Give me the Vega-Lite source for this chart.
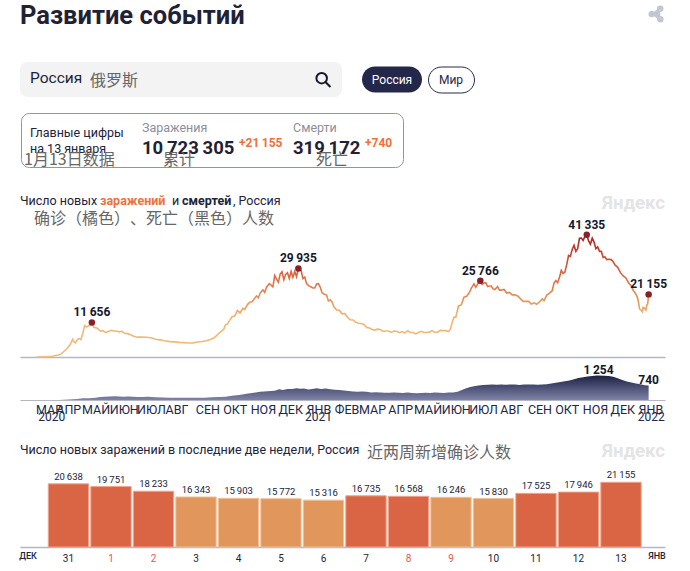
{
  "$schema": "https://vega.github.io/schema/vega-lite/v6.json",
  "padding": 0,
  "background": "white",
  "spacing": 0,
  "bounds": "flush",
  "config": {
    "view": {"stroke": null},
    "font": "Roboto",
    "text": {"font": "Roboto", "color": "#20233a"},
    "locale": {"number": {"decimal": ".", "thousands": "\u2009", "grouping": [3], "currency": ["", ""]}}
  },
  "datasets": {
    "blank": [{"t": ""}],
    "cases": [
      {"d":"2020-03-11","v":10},{"d":"2020-03-18","v":30},{"d":"2020-03-24","v":70},{"d":"2020-03-28","v":200},{"d":"2020-04-01","v":500},{"d":"2020-04-04","v":700},{"d":"2020-04-07","v":1000},{"d":"2020-04-10","v":1800},{"d":"2020-04-13","v":2600},{"d":"2020-04-15","v":3400},{"d":"2020-04-17","v":4100},{"d":"2020-04-18","v":4800},{"d":"2020-04-20","v":6000},{"d":"2020-04-21","v":5200},{"d":"2020-04-23","v":4800},{"d":"2020-04-25","v":5900},{"d":"2020-04-27","v":6200},{"d":"2020-04-29","v":5900},{"d":"2020-05-01","v":7900},{"d":"2020-05-03","v":10600},{"d":"2020-05-05","v":10100},{"d":"2020-05-07","v":10500},{"d":"2020-05-09","v":10800},{"d":"2020-05-11","v":11656},{"d":"2020-05-13","v":10000},{"d":"2020-05-15","v":9900},{"d":"2020-05-17","v":9700},{"d":"2020-05-20","v":8800},{"d":"2020-05-23","v":8900},{"d":"2020-05-26","v":8300},{"d":"2020-05-29","v":8600},{"d":"2020-06-01","v":9000},{"d":"2020-06-04","v":8800},{"d":"2020-06-07","v":8800},{"d":"2020-06-10","v":8500},{"d":"2020-06-13","v":8700},{"d":"2020-06-16","v":8000},{"d":"2020-06-19","v":7900},{"d":"2020-06-22","v":7600},{"d":"2020-06-26","v":7000},{"d":"2020-06-30","v":6700},{"d":"2020-07-05","v":6700},{"d":"2020-07-10","v":6650},{"d":"2020-07-15","v":6500},{"d":"2020-07-20","v":6000},{"d":"2020-07-25","v":5800},{"d":"2020-07-30","v":5500},{"d":"2020-08-05","v":5200},{"d":"2020-08-10","v":5100},{"d":"2020-08-15","v":4950},{"d":"2020-08-20","v":4850},{"d":"2020-08-25","v":4750},{"d":"2020-08-30","v":4750},{"d":"2020-09-04","v":5050},{"d":"2020-09-09","v":5250},{"d":"2020-09-14","v":5500},{"d":"2020-09-18","v":5900},{"d":"2020-09-22","v":6400},{"d":"2020-09-25","v":7200},{"d":"2020-09-28","v":8100},{"d":"2020-10-01","v":8900},{"d":"2020-10-03","v":9400},{"d":"2020-10-05","v":10900},{"d":"2020-10-07","v":11100},{"d":"2020-10-10","v":12600},{"d":"2020-10-12","v":13600},{"d":"2020-10-15","v":13800},{"d":"2020-10-18","v":15700},{"d":"2020-10-21","v":14900},{"d":"2020-10-24","v":16500},{"d":"2020-10-26","v":16000},{"d":"2020-10-29","v":17700},{"d":"2020-11-01","v":18600},{"d":"2020-11-03","v":18600},{"d":"2020-11-05","v":19400},{"d":"2020-11-08","v":20600},{"d":"2020-11-10","v":20000},{"d":"2020-11-12","v":21600},{"d":"2020-11-15","v":22700},{"d":"2020-11-17","v":21800},{"d":"2020-11-19","v":23600},{"d":"2020-11-22","v":24800},{"d":"2020-11-24","v":24300},{"d":"2020-11-26","v":23700},{"d":"2020-11-28","v":27500},{"d":"2020-11-30","v":26300},{"d":"2020-12-02","v":25300},{"d":"2020-12-04","v":28000},{"d":"2020-12-06","v":28800},{"d":"2020-12-08","v":26100},{"d":"2020-12-10","v":27900},{"d":"2020-12-12","v":28500},{"d":"2020-12-14","v":26500},{"d":"2020-12-16","v":28900},{"d":"2020-12-18","v":26900},{"d":"2020-12-20","v":28900},{"d":"2020-12-22","v":27100},{"d":"2020-12-24","v":29935},{"d":"2020-12-27","v":29200},{"d":"2020-12-29","v":26500},{"d":"2020-12-31","v":27000},
      {"d":"2021-01-02","v":24800},{"d":"2021-01-04","v":24200},{"d":"2021-01-06","v":23800},{"d":"2021-01-09","v":23300},{"d":"2021-01-11","v":23300},{"d":"2021-01-13","v":24700},{"d":"2021-01-15","v":24800},{"d":"2021-01-17","v":23600},{"d":"2021-01-19","v":21700},{"d":"2021-01-21","v":21300},{"d":"2021-01-24","v":20900},{"d":"2021-01-26","v":18900},{"d":"2021-01-28","v":19300},{"d":"2021-01-30","v":18600},{"d":"2021-02-01","v":17000},{"d":"2021-02-04","v":15900},{"d":"2021-02-07","v":15800},{"d":"2021-02-10","v":14600},{"d":"2021-02-13","v":14700},{"d":"2021-02-16","v":13400},{"d":"2021-02-19","v":12600},{"d":"2021-02-22","v":12500},{"d":"2021-02-25","v":11700},{"d":"2021-02-28","v":11400},{"d":"2021-03-03","v":11300},{"d":"2021-03-06","v":11000},{"d":"2021-03-09","v":10000},{"d":"2021-03-12","v":9800},{"d":"2021-03-15","v":9300},{"d":"2021-03-18","v":9100},{"d":"2021-03-21","v":9400},{"d":"2021-03-24","v":9300},{"d":"2021-03-27","v":8700},{"d":"2021-03-30","v":8800},{"d":"2021-04-02","v":8800},{"d":"2021-04-05","v":8300},{"d":"2021-04-08","v":8800},{"d":"2021-04-11","v":8700},{"d":"2021-04-14","v":8200},{"d":"2021-04-17","v":8600},{"d":"2021-04-20","v":8100},{"d":"2021-04-23","v":8900},{"d":"2021-04-26","v":8300},{"d":"2021-04-29","v":8300},{"d":"2021-05-02","v":7800},{"d":"2021-05-05","v":8300},{"d":"2021-05-08","v":8700},{"d":"2021-05-11","v":8300},{"d":"2021-05-14","v":8300},{"d":"2021-05-17","v":8400},{"d":"2021-05-20","v":8900},{"d":"2021-05-23","v":8300},{"d":"2021-05-26","v":8400},{"d":"2021-05-29","v":9000},{"d":"2021-06-01","v":8900},{"d":"2021-06-04","v":8900},{"d":"2021-06-07","v":8600},{"d":"2021-06-09","v":9300},{"d":"2021-06-11","v":11600},{"d":"2021-06-13","v":13500},{"d":"2021-06-15","v":13400},{"d":"2021-06-18","v":17300},{"d":"2021-06-21","v":17600},{"d":"2021-06-24","v":20200},{"d":"2021-06-27","v":20500},{"d":"2021-06-30","v":21800},{"d":"2021-07-02","v":23200},{"d":"2021-07-05","v":24700},{"d":"2021-07-07","v":23500},{"d":"2021-07-10","v":25100},{"d":"2021-07-12","v":25766},{"d":"2021-07-14","v":24500},{"d":"2021-07-16","v":25000},{"d":"2021-07-18","v":25100},{"d":"2021-07-20","v":23800},{"d":"2021-07-22","v":24000},{"d":"2021-07-24","v":24000},{"d":"2021-07-26","v":23000},{"d":"2021-07-28","v":22800},{"d":"2021-07-31","v":23800},{"d":"2021-08-02","v":22600},{"d":"2021-08-04","v":22600},{"d":"2021-08-07","v":22800},{"d":"2021-08-10","v":21600},{"d":"2021-08-13","v":21800},{"d":"2021-08-16","v":21000},{"d":"2021-08-19","v":21000},{"d":"2021-08-22","v":20600},{"d":"2021-08-25","v":19700},{"d":"2021-08-28","v":18800},{"d":"2021-08-31","v":18800},{"d":"2021-09-03","v":18800},{"d":"2021-09-06","v":17900},{"d":"2021-09-09","v":18300},{"d":"2021-09-12","v":17800},{"d":"2021-09-15","v":18600},{"d":"2021-09-18","v":19600},{"d":"2021-09-20","v":19000},{"d":"2021-09-23","v":20900},{"d":"2021-09-26","v":21600},{"d":"2021-09-29","v":22400},{"d":"2021-10-01","v":25000},{"d":"2021-10-03","v":25800},{"d":"2021-10-05","v":25100},{"d":"2021-10-07","v":26900},{"d":"2021-10-09","v":29300},{"d":"2021-10-11","v":28200},{"d":"2021-10-13","v":28700},{"d":"2021-10-15","v":31300},{"d":"2021-10-17","v":34300},{"d":"2021-10-19","v":34000},{"d":"2021-10-21","v":36300},{"d":"2021-10-23","v":37700},{"d":"2021-10-25","v":35700},{"d":"2021-10-27","v":36600},{"d":"2021-10-29","v":40100},{"d":"2021-10-31","v":40200},{"d":"2021-11-02","v":39400},{"d":"2021-11-04","v":40700},{"d":"2021-11-06","v":41335},{"d":"2021-11-08","v":39200},{"d":"2021-11-10","v":38100},{"d":"2021-11-12","v":40100},{"d":"2021-11-14","v":38800},{"d":"2021-11-16","v":36600},{"d":"2021-11-18","v":37200},{"d":"2021-11-20","v":35700},{"d":"2021-11-22","v":35700},{"d":"2021-11-24","v":33600},{"d":"2021-11-26","v":33800},{"d":"2021-11-28","v":32900},{"d":"2021-11-30","v":33000},{"d":"2021-12-03","v":32900},{"d":"2021-12-05","v":32200},{"d":"2021-12-07","v":31100},{"d":"2021-12-10","v":30300},{"d":"2021-12-13","v":28500},{"d":"2021-12-16","v":27400},{"d":"2021-12-19","v":26700},{"d":"2021-12-22","v":25000},{"d":"2021-12-25","v":24000},{"d":"2021-12-27","v":22500},{"d":"2021-12-29","v":21700},{"d":"2021-12-31","v":20638},
      {"d":"2022-01-01","v":19751},{"d":"2022-01-02","v":18233},{"d":"2022-01-03","v":16343},{"d":"2022-01-04","v":15903},{"d":"2022-01-05","v":15772},{"d":"2022-01-06","v":15316},{"d":"2022-01-07","v":16735},{"d":"2022-01-08","v":16568},{"d":"2022-01-09","v":16246},{"d":"2022-01-10","v":15830},{"d":"2022-01-11","v":17525},{"d":"2022-01-12","v":17946},{"d":"2022-01-13","v":21155}
    ],
    "peaks": [
      {"d":"2020-05-11","v":11656},{"d":"2020-12-24","v":29935},{"d":"2021-07-12","v":25766},{"d":"2021-11-06","v":41335},{"d":"2022-01-13","v":21155}
    ],
    "deaths": [
      {"d":"2020-03-11","v":0},{"d":"2020-03-25","v":2},{"d":"2020-04-05","v":6},{"d":"2020-04-15","v":30},{"d":"2020-04-25","v":55},{"d":"2020-05-01","v":90},{"d":"2020-05-08","v":85},{"d":"2020-05-15","v":120},{"d":"2020-05-20","v":150},{"d":"2020-05-25","v":170},{"d":"2020-05-30","v":185},{"d":"2020-06-05","v":190},{"d":"2020-06-10","v":180},{"d":"2020-06-15","v":170},{"d":"2020-06-20","v":175},{"d":"2020-06-25","v":165},{"d":"2020-06-30","v":160},{"d":"2020-07-05","v":155},{"d":"2020-07-12","v":165},{"d":"2020-07-20","v":140},{"d":"2020-07-28","v":130},{"d":"2020-08-05","v":120},{"d":"2020-08-12","v":115},{"d":"2020-08-20","v":110},{"d":"2020-08-28","v":110},{"d":"2020-09-05","v":115},{"d":"2020-09-12","v":110},{"d":"2020-09-20","v":135},{"d":"2020-09-28","v":160},{"d":"2020-10-05","v":170},{"d":"2020-10-12","v":220},{"d":"2020-10-20","v":260},{"d":"2020-10-28","v":320},{"d":"2020-11-05","v":370},{"d":"2020-11-12","v":420},{"d":"2020-11-20","v":450},{"d":"2020-11-28","v":480},{"d":"2020-12-03","v":550},{"d":"2020-12-07","v":510},{"d":"2020-12-12","v":570},{"d":"2020-12-17","v":560},{"d":"2020-12-22","v":600},{"d":"2020-12-26","v":580},{"d":"2020-12-30","v":590},
      {"d":"2021-01-04","v":540},{"d":"2021-01-08","v":570},{"d":"2021-01-13","v":600},{"d":"2021-01-18","v":560},{"d":"2021-01-23","v":590},{"d":"2021-01-28","v":550},{"d":"2021-02-02","v":520},{"d":"2021-02-07","v":510},{"d":"2021-02-12","v":490},{"d":"2021-02-17","v":460},{"d":"2021-02-22","v":440},{"d":"2021-02-27","v":420},{"d":"2021-03-04","v":440},{"d":"2021-03-09","v":420},{"d":"2021-03-14","v":390},{"d":"2021-03-19","v":400},{"d":"2021-03-24","v":380},{"d":"2021-03-29","v":370},{"d":"2021-04-03","v":375},{"d":"2021-04-08","v":385},{"d":"2021-04-13","v":370},{"d":"2021-04-18","v":360},{"d":"2021-04-23","v":380},{"d":"2021-04-28","v":360},{"d":"2021-05-03","v":350},{"d":"2021-05-08","v":365},{"d":"2021-05-13","v":370},{"d":"2021-05-18","v":360},{"d":"2021-05-23","v":380},{"d":"2021-05-28","v":370},{"d":"2021-06-02","v":365},{"d":"2021-06-07","v":380},{"d":"2021-06-12","v":390},{"d":"2021-06-17","v":420},{"d":"2021-06-21","v":500},{"d":"2021-06-25","v":580},{"d":"2021-06-30","v":660},{"d":"2021-07-05","v":700},{"d":"2021-07-10","v":740},{"d":"2021-07-15","v":770},{"d":"2021-07-20","v":780},{"d":"2021-07-25","v":790},{"d":"2021-07-30","v":780},{"d":"2021-08-04","v":790},{"d":"2021-08-09","v":780},{"d":"2021-08-14","v":800},{"d":"2021-08-19","v":790},{"d":"2021-08-24","v":770},{"d":"2021-08-29","v":790},{"d":"2021-09-03","v":790},{"d":"2021-09-08","v":790},{"d":"2021-09-13","v":780},{"d":"2021-09-18","v":800},{"d":"2021-09-23","v":810},{"d":"2021-09-28","v":850},{"d":"2021-10-03","v":890},{"d":"2021-10-08","v":920},{"d":"2021-10-13","v":960},{"d":"2021-10-18","v":1000},{"d":"2021-10-23","v":1060},{"d":"2021-10-28","v":1130},{"d":"2021-11-02","v":1170},{"d":"2021-11-07","v":1200},{"d":"2021-11-12","v":1230},{"d":"2021-11-17","v":1250},{"d":"2021-11-19","v":1254},{"d":"2021-11-25","v":1240},{"d":"2021-11-30","v":1230},{"d":"2021-12-05","v":1190},{"d":"2021-12-10","v":1120},{"d":"2021-12-15","v":1030},{"d":"2021-12-20","v":950},{"d":"2021-12-25","v":900},{"d":"2021-12-30","v":850},
      {"d":"2022-01-04","v":810},{"d":"2022-01-09","v":750},{"d":"2022-01-13","v":740}
    ],
    "twoWeeks": [
      {"day":"31","v":20638},{"day":"1","v":19751},{"day":"2","v":18233},{"day":"3","v":16343},{"day":"4","v":15903},{"day":"5","v":15772},{"day":"6","v":15316},{"day":"7","v":16735},{"day":"8","v":16568},{"day":"9","v":16246},{"day":"10","v":15830},{"day":"11","v":17525},{"day":"12","v":17946},{"day":"13","v":21155}
    ]
  },
  "vconcat": [
    {
      "width": 690, "height": 28,
      "layer": [
        {
          "data": {"values": [{"t": "Развитие событий"}]},
          "mark": {"type": "text", "align": "left", "dx": -325, "dy": 2, "fontSize": 25.5, "fontWeight": 700, "color": "#1f2235"},
          "encoding": {"text": {"field": "t"}}
        },
        {
          "data": {"name": "blank"},
          "mark": {"type": "point", "shape": "M0.5,-0.62 L-0.5,0 L0.5,0.62 M0.8,-0.62 A0.3,0.3 0 1 1 0.2,-0.62 A0.3,0.3 0 1 1 0.8,-0.62 M-0.2,0 A0.3,0.3 0 1 1 -0.8,0 A0.3,0.3 0 1 1 -0.2,0 M0.8,0.62 A0.3,0.3 0 1 1 0.2,0.62 A0.3,0.3 0 1 1 0.8,0.62", "size": 288, "filled": true, "color": "#c3c6d2", "stroke": "#c3c6d2", "strokeWidth": 1.5, "opacity": 1},
          "encoding": {"x": {"datum": 656, "type": "quantitative", "scale": {"domain": [0, 690], "range": [0, 690]}, "axis": null}}
        }
      ]
    },
    {"width": 690, "height": 34, "data": {"name": "blank"}, "mark": {"type": "text", "text": ""}},
    {
      "hconcat": [
        {"width": 20, "height": 35, "data": {"name": "blank"}, "mark": {"type": "text", "text": ""}},
        {
          "width": 322, "height": 35,
          "view": {"fill": "#f3f3f3", "cornerRadius": 8, "stroke": null},
          "layer": [
            {
              "data": {"values": [{"t": "Россия"}]},
              "mark": {"type": "text", "align": "left", "dx": -151, "dy": -2, "fontSize": 15.5, "color": "#20233a"},
              "encoding": {"text": {"field": "t"}}
            },
            {
              "data": {"values": [{"t": "俄罗斯"}]},
              "mark": {"type": "text", "align": "left", "dx": -91, "dy": 1, "fontSize": 16, "font": "Noto Sans CJK SC", "color": "#666666"},
              "encoding": {"text": {"field": "t"}}
            },
            {
              "data": {"name": "blank"},
              "mark": {"type": "point", "shape": "M0.45,-0.15 A0.6,0.6 0 1 1 -0.75,-0.15 A0.6,0.6 0 1 1 0.45,-0.15 M0.28,0.28 L0.85,0.85", "size": 308, "filled": false, "stroke": "#15172a", "strokeWidth": 2, "opacity": 1},
              "encoding": {"x": {"datum": 303, "type": "quantitative", "scale": {"domain": [0, 322], "range": [0, 322]}, "axis": null}}
            }
          ]
        },
        {"width": 20, "height": 35, "data": {"name": "blank"}, "mark": {"type": "text", "text": ""}},
        {
          "width": 60, "height": 26,
          "view": {"fill": "#23284a", "cornerRadius": 13, "stroke": null},
          "data": {"values": [{"t": "Россия"}]},
          "mark": {"type": "text", "fontSize": 12, "color": "#ffffff"},
          "encoding": {"text": {"field": "t"}}
        },
        {"width": 6, "height": 35, "data": {"name": "blank"}, "mark": {"type": "text", "text": ""}},
        {
          "width": 46, "height": 26,
          "view": {"fill": "#ffffff", "cornerRadius": 13, "stroke": "#23284a", "strokeWidth": 1},
          "data": {"values": [{"t": "Мир"}]},
          "mark": {"type": "text", "fontSize": 12, "color": "#23284a"},
          "encoding": {"text": {"field": "t"}}
        }
      ],
      "spacing": 0, "bounds": "flush", "center": true
    },
    {"width": 690, "height": 51, "data": {"name": "blank"}, "mark": {"type": "text", "text": ""}},
    {
      "hconcat": [
        {"width": 21, "height": 55, "data": {"name": "blank"}, "mark": {"type": "text", "text": ""}},
        {
          "width": 382, "height": 54,
          "view": {"fill": "#ffffff", "cornerRadius": 8, "stroke": "#9094a8", "strokeWidth": 1},
          "layer": [
            {"data": {"values": [{"t": "Главные цифры"}]}, "mark": {"type": "text", "align": "left", "dx": -182, "dy": -7, "fontSize": 12.5, "color": "#20233a"}, "encoding": {"text": {"field": "t"}}},
            {"data": {"values": [{"t": "на 13 января"}]}, "mark": {"type": "text", "align": "left", "dx": -182, "dy": 9, "fontSize": 12.5, "color": "#20233a"}, "encoding": {"text": {"field": "t"}}},
            {"data": {"values": [{"t": "1月13日数据"}]}, "mark": {"type": "text", "align": "left", "dx": -188, "dy": 20, "fontSize": 16, "font": "Noto Sans CJK SC", "color": "#666666"}, "encoding": {"text": {"field": "t"}}},
            {"data": {"values": [{"t": "Заражения"}]}, "mark": {"type": "text", "align": "left", "dx": -70, "dy": -12, "fontSize": 12.5, "color": "#8e8e9a"}, "encoding": {"text": {"field": "t"}}},
            {"data": {"values": [{"t": "Смерти"}]}, "mark": {"type": "text", "align": "left", "dx": 81, "dy": -12, "fontSize": 12.5, "color": "#8e8e9a"}, "encoding": {"text": {"field": "t"}}},
            {"data": {"values": [{"v": 10723305}]}, "mark": {"type": "text", "align": "left", "dx": -70, "dy": 8, "fontSize": 18.5, "fontWeight": 700, "color": "#1f2235"}, "encoding": {"text": {"field": "v", "type": "quantitative", "format": ",d"}}},
            {"data": {"values": [{"v": 319172}]}, "mark": {"type": "text", "align": "left", "dx": 81, "dy": 8, "fontSize": 18.5, "fontWeight": 700, "color": "#1f2235"}, "encoding": {"text": {"field": "v", "type": "quantitative", "format": ",d"}}},
            {"data": {"values": [{"t": "+21\u2009155"}]}, "mark": {"type": "text", "align": "left", "dx": 27, "dy": 3, "fontSize": 12, "fontWeight": 700, "color": "#f0703a"}, "encoding": {"text": {"field": "t"}}},
            {"data": {"values": [{"t": "+740"}]}, "mark": {"type": "text", "align": "left", "dx": 153, "dy": 3, "fontSize": 12, "fontWeight": 700, "color": "#f0703a"}, "encoding": {"text": {"field": "t"}}},
            {"data": {"values": [{"t": "累计"}]}, "mark": {"type": "text", "align": "left", "dx": -49, "dy": 20, "fontSize": 16, "font": "Noto Sans CJK SC", "color": "#666666"}, "encoding": {"text": {"field": "t"}}},
            {"data": {"values": [{"t": "死亡"}]}, "mark": {"type": "text", "align": "left", "dx": 104, "dy": 20, "fontSize": 16, "font": "Noto Sans CJK SC", "color": "#666666"}, "encoding": {"text": {"field": "t"}}}
          ]
        }
      ],
      "spacing": 0, "bounds": "flush"
    },
    {"width": 690, "height": 77, "data": {"name": "blank"}, "mark": {"type": "text", "text": ""}},
    {
      "width": 690, "height": 40,
      "layer": [
        {"data": {"values": [{"t": "Число новых"}]}, "mark": {"type": "text", "align": "left", "dx": -325, "dy": -9, "fontSize": 12.5, "color": "#20233a"}, "encoding": {"text": {"field": "t"}}},
        {"data": {"values": [{"t": "заражений"}]}, "mark": {"type": "text", "align": "left", "dx": -245, "dy": -9, "fontSize": 12.5, "fontWeight": 700, "color": "#f0703a"}, "encoding": {"text": {"field": "t"}}},
        {"data": {"values": [{"t": "и"}]}, "mark": {"type": "text", "align": "left", "dx": -173, "dy": -9, "fontSize": 12.5, "color": "#20233a"}, "encoding": {"text": {"field": "t"}}},
        {"data": {"values": [{"t": "смертей"}]}, "mark": {"type": "text", "align": "left", "dx": -163, "dy": -9, "fontSize": 12.5, "fontWeight": 700, "color": "#20233a"}, "encoding": {"text": {"field": "t"}}},
        {"data": {"values": [{"t": ", Россия"}]}, "mark": {"type": "text", "align": "left", "dx": -112, "dy": -9, "fontSize": 12.5, "color": "#20233a"}, "encoding": {"text": {"field": "t"}}},
        {"data": {"values": [{"t": "确诊（橘色）"}]}, "mark": {"type": "text", "align": "left", "dx": -311, "dy": 9, "fontSize": 16, "font": "Noto Sans CJK SC", "color": "#666666"}, "encoding": {"text": {"field": "t"}}},
        {"data": {"values": [{"t": "、死亡（黑色）人数"}]}, "mark": {"type": "text", "align": "left", "dx": -215, "dy": 9, "fontSize": 16, "font": "Noto Sans CJK SC", "color": "#666666"}, "encoding": {"text": {"field": "t"}}},
        {"data": {"values": [{"t": "Яндекс"}]}, "mark": {"type": "text", "align": "right", "dx": 320, "dy": -7, "fontSize": 18.5, "fontWeight": 700, "color": "#e4e4e4"}, "encoding": {"text": {"field": "t"}}}
      ]
    },
    {
      "width": 690, "height": 127,
      "encoding": {
        "x": {"field": "d", "type": "temporal", "scale": {"domain": ["2020-02-22", "2022-01-31"], "range": [20, 665]}, "axis": {"title": null, "labels": false, "ticks": false, "grid": false, "domainColor": "#b4b6c4", "domainWidth": 1.5}},
        "y": {"field": "v", "type": "quantitative", "scale": {"domain": [0, 42905]}, "axis": null}
      },
      "layer": [
        {
          "data": {"name": "cases"},
          "mark": {"type": "line", "strokeWidth": 1.6, "color": {"gradient": "linear", "x1": 0, "x2": 0, "y1": 1, "y2": 0, "stops": [{"offset": 0, "color": "#f0bb7a"}, {"offset": 0.32, "color": "#f0b572"}, {"offset": 0.47, "color": "#e69358"}, {"offset": 0.7, "color": "#d9603f"}, {"offset": 0.85, "color": "#c4442f"}, {"offset": 1, "color": "#9e2323"}]}}
        },
        {
          "data": {"name": "peaks"},
          "mark": {"type": "circle", "size": 42, "color": "#8a1f27", "opacity": 1}
        },
        {
          "data": {"name": "peaks"},
          "mark": {"type": "text", "dy": -10, "fontSize": 12, "fontWeight": 700, "color": "#15172a"},
          "encoding": {"text": {"field": "v", "type": "quantitative", "format": ",d"}}
        }
      ]
    },
    {
      "width": 690, "height": 43,
      "encoding": {
        "x": {"field": "d", "type": "temporal", "scale": {"domain": ["2020-02-22", "2022-01-31"], "range": [20, 665]}, "axis": {"title": null, "ticks": false, "grid": false, "domainColor": "#b4b6c4", "domainWidth": 1, "labelPadding": 3, "labelFontSize": 12.5, "labelColor": "#22264a", "labelFont": "Roboto", "labelOverlap": false, "labelBound": false, "labelFlush": false, "values": ["2020-03-25", "2020-04-15", "2020-05-15", "2020-06-15", "2020-07-15", "2020-08-12", "2020-09-15", "2020-10-15", "2020-11-15", "2020-12-15", "2021-01-15", "2021-02-15", "2021-03-15", "2021-04-15", "2021-05-15", "2021-06-15", "2021-07-15", "2021-08-15", "2021-09-15", "2021-10-15", "2021-11-15", "2021-12-15", "2022-01-15"], "labelExpr": "['ЯНВ','ФЕВ','МАР','АПР','МАЙ','ИЮН','ИЮЛ','АВГ','СЕН','ОКТ','НОЯ','ДЕК'][month(datum.value)]"}},
        "y": {"field": "v", "type": "quantitative", "scale": {"domain": [0, 2205]}, "axis": null}
      },
      "layer": [
        {
          "data": {"name": "deaths"},
          "mark": {"type": "area", "color": {"gradient": "linear", "x1": 0, "x2": 0, "y1": 0, "y2": 1, "stops": [{"offset": 0, "color": "#1d2140"}, {"offset": 0.35, "color": "#3f4368"}, {"offset": 1, "color": "#7f83a6"}]}}
        },
        {
          "data": {"values": [{"d": "2021-11-19", "v": 1254}, {"d": "2022-01-13", "v": 740}]},
          "mark": {"type": "text", "dy": -6, "fontSize": 12, "fontWeight": 700, "color": "#15172a"},
          "encoding": {"text": {"field": "v", "type": "quantitative", "format": ",d"}}
        },
        {
          "data": {"values": [{"d": "2020-03-28", "v": 0, "label": "2020"}, {"d": "2021-01-15", "v": 0, "label": "2021"}, {"d": "2022-01-16", "v": 0, "label": "2022"}]},
          "mark": {"type": "text", "dy": 17, "fontSize": 12, "color": "#22264a"},
          "encoding": {"text": {"field": "label", "type": "nominal"}}
        }
      ]
    },
    {"width": 690, "height": 30, "data": {"name": "blank"}, "mark": {"type": "text", "text": ""}},
    {
      "width": 690, "height": 40,
      "layer": [
        {"data": {"values": [{"t": "Число новых заражений в последние две недели, Россия"}]}, "mark": {"type": "text", "align": "left", "dx": -325, "fontSize": 12.5, "color": "#20233a"}, "encoding": {"text": {"field": "t"}}},
        {"data": {"values": [{"t": "近两周新增确诊人数"}]}, "mark": {"type": "text", "align": "left", "dx": 22, "dy": 3, "fontSize": 16, "font": "Noto Sans CJK SC", "color": "#666666"}, "encoding": {"text": {"field": "t"}}},
        {"data": {"values": [{"t": "Яндекс"}]}, "mark": {"type": "text", "align": "right", "dx": 320, "dy": 1, "fontSize": 18.5, "fontWeight": 700, "color": "#e4e4e4"}, "encoding": {"text": {"field": "t"}}}
      ]
    },
    {
      "width": 690, "height": 77,
      "resolve": {"scale": {"x": "independent"}},
      "layer": [
        {
          "data": {"name": "twoWeeks"},
          "encoding": {
            "x": {"field": "day", "type": "nominal", "sort": null, "scale": {"type": "band", "domain": ["31", "1", "2", "3", "4", "5", "6", "7", "8", "9", "10", "11", "12", "13"], "range": [20, 665], "paddingInner": 0.05, "paddingOuter": 0.613, "align": 0.543}, "axis": {"title": null, "labelAngle": 0, "ticks": false, "grid": false, "domainColor": "#b4b6c4", "domainWidth": 1.5, "labelPadding": 6, "labelFontSize": 10, "labelFont": "Roboto", "labelColor": {"condition": {"test": "indexof(['1','2','8','9'], datum.label) >= 0", "value": "#e8584a"}, "value": "#20233a"}}},
            "y": {"field": "v", "type": "quantitative", "scale": {"domain": [0, 25163]}, "axis": null}
          },
          "layer": [
            {
              "mark": {"type": "bar", "strokeWidth": 1},
              "encoding": {
                "color": {"field": "v", "type": "quantitative", "scale": {"type": "threshold", "domain": [16500], "range": ["#e1965b", "#da6544"]}, "legend": null},
                "stroke": {"field": "v", "type": "quantitative", "scale": {"type": "threshold", "domain": [16500], "range": ["#eec09a", "#eea58f"]}, "legend": null}
              }
            },
            {
              "mark": {"type": "text", "dy": -7, "fontSize": 9.5, "color": "#20233a"},
              "encoding": {"text": {"field": "v", "type": "quantitative", "format": ",d"}}
            }
          ]
        },
        {
          "data": {"values": [{"month": "ДЕК"}, {"month": "ЯНВ"}]},
          "mark": {"type": "text", "dy": 9, "fontSize": 9, "fontWeight": 500, "color": "#20233a"},
          "encoding": {
            "x": {"field": "month", "type": "nominal", "sort": null, "scale": {"type": "point", "domain": ["ДЕК", "ЯНВ"], "range": [28, 657], "padding": 0}, "axis": null},
            "y": {"datum": 0, "type": "quantitative", "scale": {"domain": [0, 25163]}, "axis": null},
            "text": {"field": "month"}
          }
        }
      ]
    },
    {"width": 690, "height": 24, "data": {"name": "blank"}, "mark": {"type": "text", "text": ""}}
  ]
}
